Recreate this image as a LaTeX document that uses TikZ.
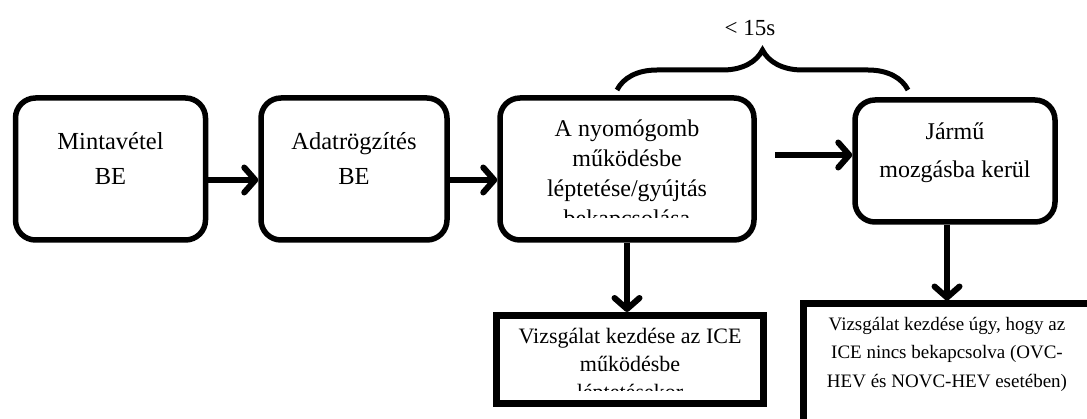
\documentclass[tikz,border=0pt]{standalone}
\usepackage{fontspec}
\setmainfont{Liberation Serif}
\usetikzlibrary{arrows.meta,calc,decorations.pathreplacing}
\tikzset{
  base/.style={draw=black, line width=5.5pt, inner sep=0pt},
  box/.style={base, rounded corners=20pt},
  sqbox/.style={base, line width=7pt},
  txt/.style={align=center, inner sep=0pt, anchor=north, font=#1},
  arr/.style={-{Straight Barb[length=11pt,width=25pt,round]}, line width=6pt},
  brc/.style={decorate, decoration={brace,amplitude=40pt}, line width=5pt},
}
\begin{document}
\begin{tikzpicture}[x=1pt,y=-1pt]
  \clip (0,0) rectangle (1087,419);
  \node[box, minimum width=190pt, minimum height=142pt] (mint) at (110.5,169) {};
  \node[box, minimum width=186pt, minimum height=142pt] (adat) at (354,169) {};
  \node[box, minimum width=254pt, minimum height=142pt] (push) at (627,169) {};
  \node[box, minimum width=200pt, minimum height=122pt] (jarmu) at (955,161) {};
  \node[sqbox, minimum width=267pt, minimum height=88pt] (ice) at (630,359.5) {};
  \node[sqbox, minimum width=287pt, minimum height=152pt] (nincs) at (947,380) {};

  \node[txt={\fontsize{24.5}{35}\selectfont}] (mintT) at (110.5,132) {Mintavétel\\BE};
  \node[txt={\fontsize{24.5}{35}\selectfont}] (adatT) at (354,132) {Adatrögzítés\\BE};
  \begin{scope}
    \clip (500,100) rectangle (755,218);
    \node[txt={\fontsize{24}{30}\selectfont}] (pushT) at (627,120)
      {A nyomógomb\\működésbe\\léptetése/gyújtás\\bekapcsolása};
  \end{scope}
  \node[txt={\fontsize{24}{38}\selectfont}] (jarmuT) at (955,123) {Jármű\\mozgásba kerül};
  \begin{scope}
    \clip (497,316) rectangle (763,391);
    \node[txt={\fontsize{22}{28}\selectfont}] (iceT) at (630,328)
      {Vizsgálat kezdése az ICE\\működésbe\\léptetésekor};
  \end{scope}
  \node[txt={\fontsize{19}{28.5}\selectfont}] (nincsT) at (947,317)
    {Vizsgálat kezdése úgy, hogy az\\ICE nincs bekapcsolva (OVC-\\HEV és NOVC-HEV esetében)};

  \draw[arr] ($(mint.east)+(0,11)$) -- ($(adat.west)+(0,11)$);
  \draw[arr] ($(adat.east)+(0,11)$) -- ($(push.west)+(0,11)$);
  \coordinate (gap) at (775,155);
  \draw[arr] (gap) -- (gap -| jarmu.west);
  \draw[arr] (push.south) -- (push.south |- ice.north);
  \draw[arr] (jarmu.south -| nincs.north) -- (nincs.north);

  \coordinate (brL) at (617,90);
  \coordinate (brR) at (908,90);
  \draw[brc] (brL) -- (brR);
  \node[font=\fontsize{23}{27}\selectfont] (limit) at (750,28) {< 15s};
\end{tikzpicture}
\end{document}
